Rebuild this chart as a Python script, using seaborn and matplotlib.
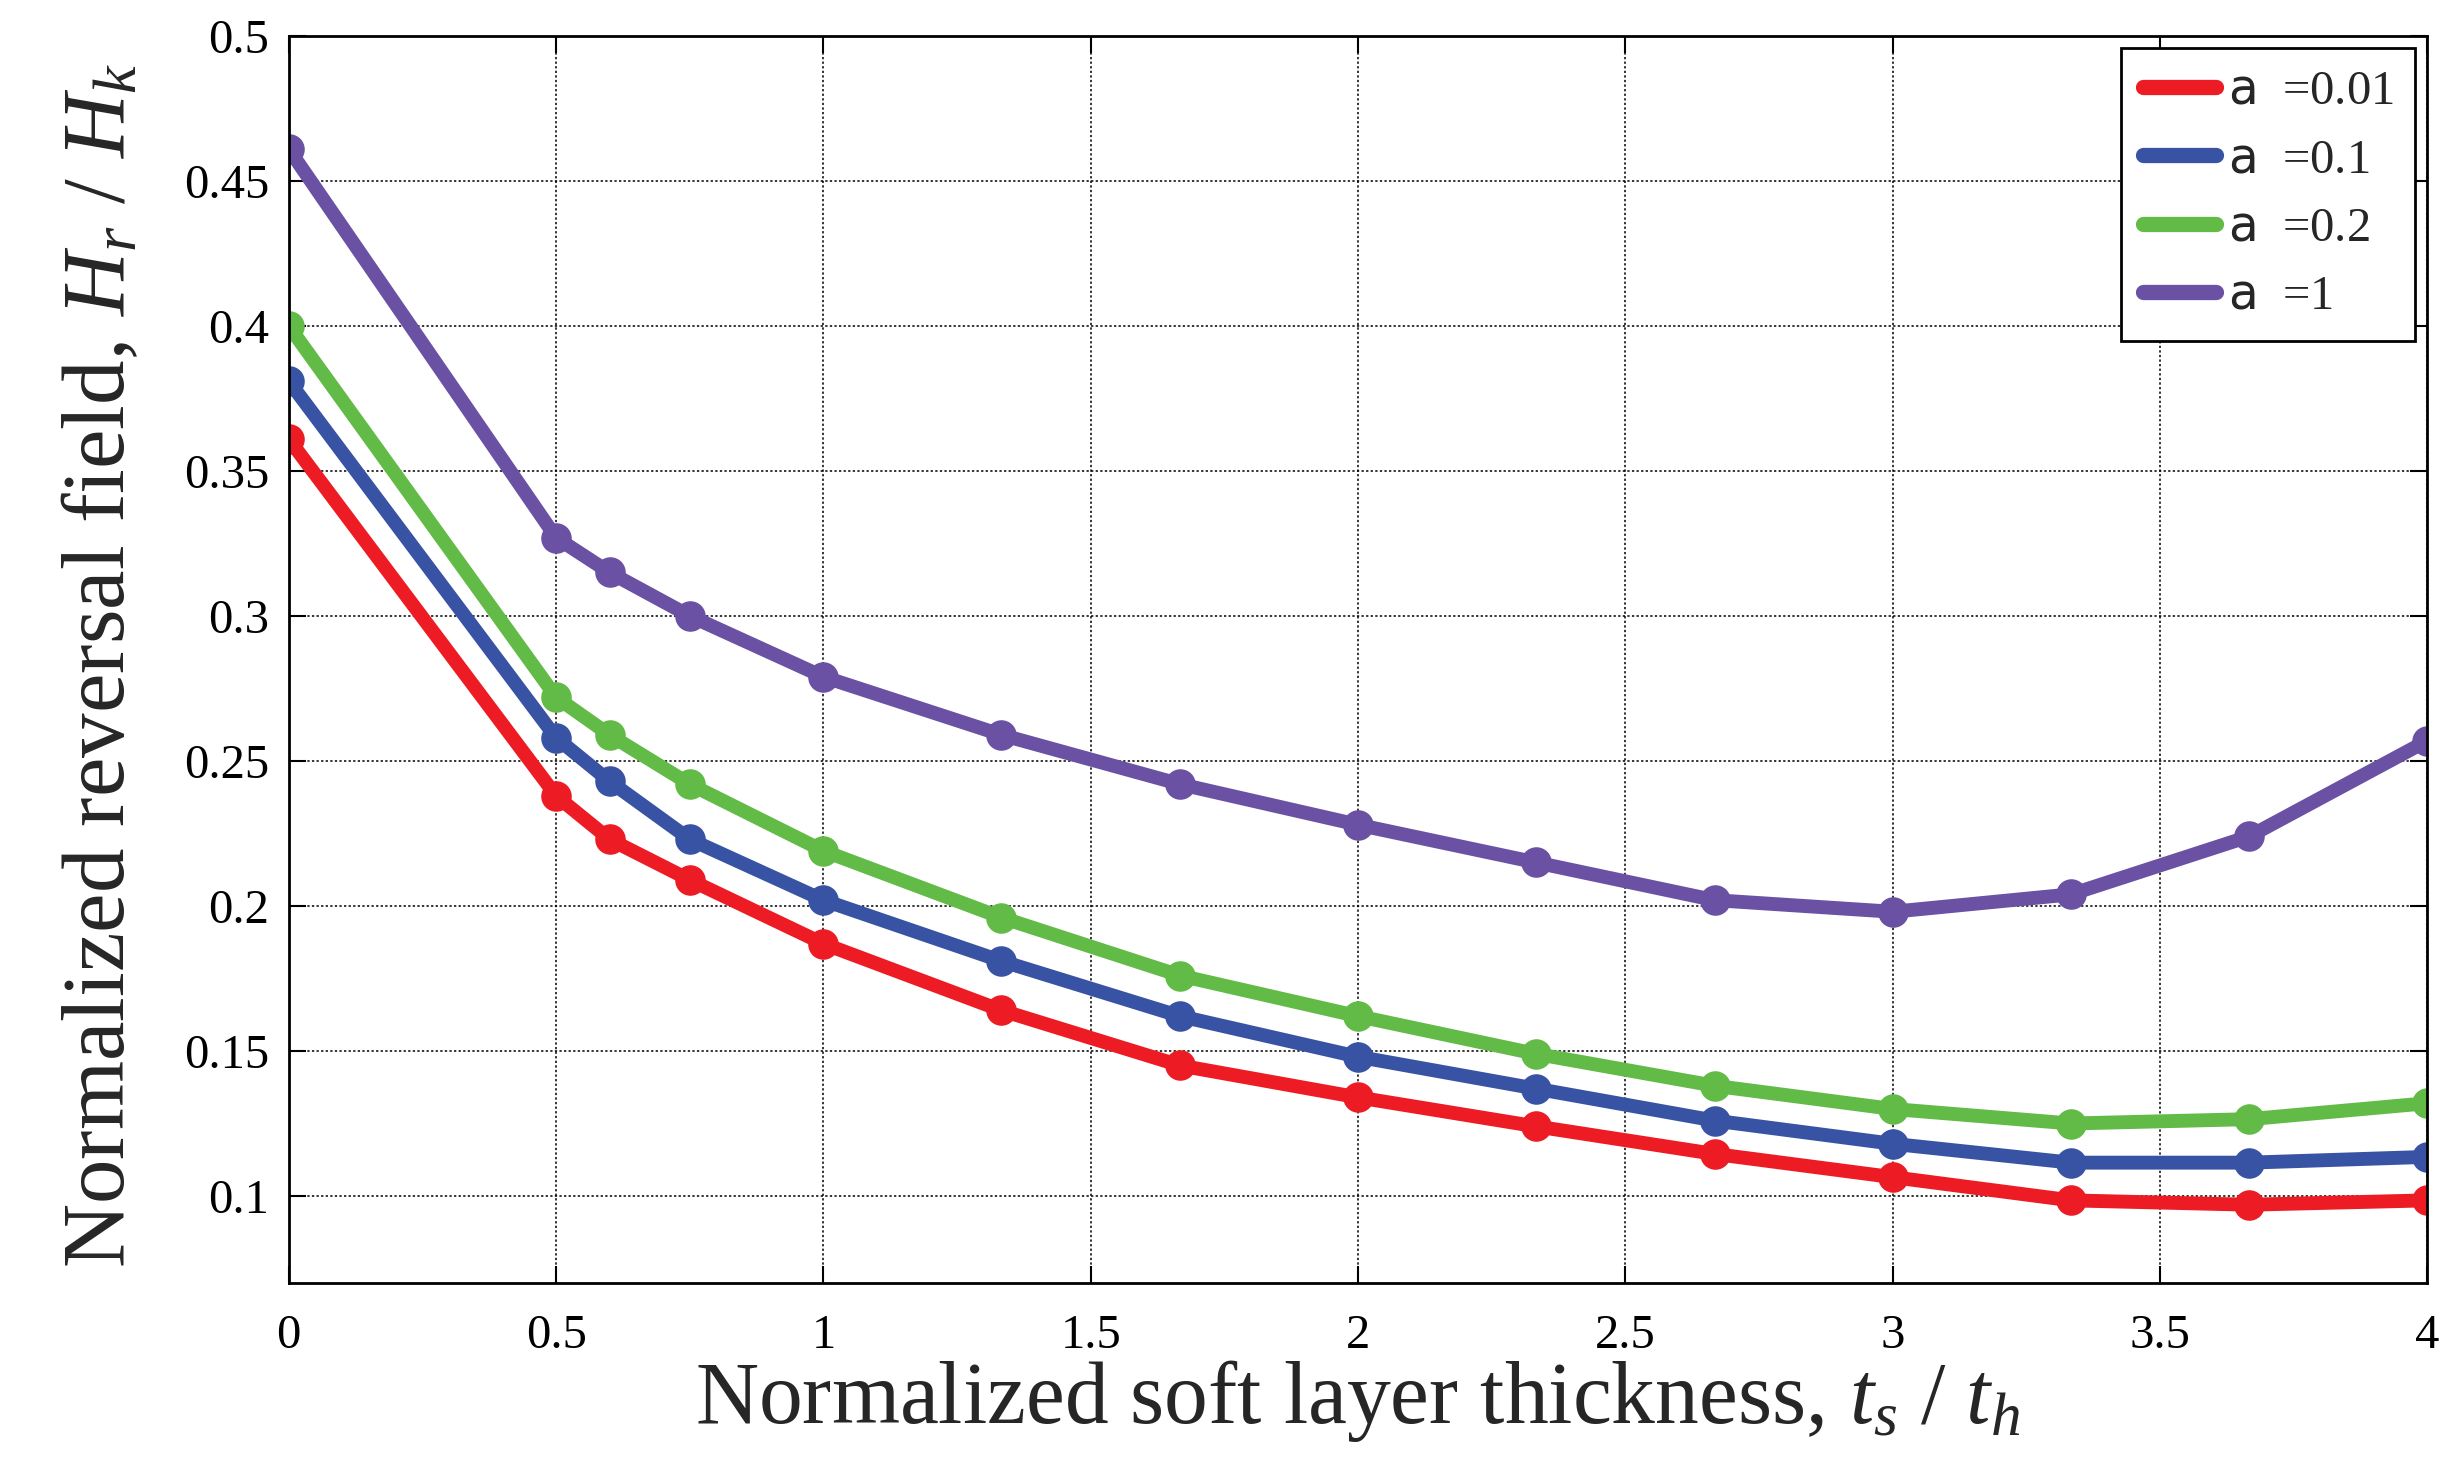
import pandas as pd
import matplotlib.pyplot as plt
import seaborn as sns
from matplotlib.lines import Line2D

sns.set_theme(style="ticks")
plt.rcParams["font.family"] = ["Liberation Serif", "DejaVu Serif"]
plt.rcParams["mathtext.fontset"] = "custom"
plt.rcParams["mathtext.rm"] = "Liberation Serif"
plt.rcParams["mathtext.it"] = "Liberation Serif:italic"
plt.rcParams["mathtext.sf"] = "DejaVu Sans"

# datos
x = [0, 0.5, 0.6, 0.75, 1, 1.333, 1.667, 2, 2.333, 2.667, 3, 3.333, 3.667, 4]
y_001 = [0.361, 0.238, 0.223, 0.209, 0.187, 0.164, 0.145, 0.134, 0.124, 0.1145, 0.1065, 0.0985, 0.097, 0.0985]
y_01 = [0.381, 0.258, 0.243, 0.223, 0.202, 0.181, 0.162, 0.148, 0.137, 0.126, 0.118, 0.1115, 0.1115, 0.1135]
y_02 = [0.400, 0.272, 0.259, 0.242, 0.219, 0.196, 0.176, 0.162, 0.149, 0.138, 0.130, 0.125, 0.1265, 0.132]
y_1 = [0.461, 0.327, 0.315, 0.300, 0.279, 0.259, 0.242, 0.228, 0.215, 0.202, 0.198, 0.204, 0.224, 0.257]

etiquetas = ["0.01", "0.1", "0.2", "1"]
colores = ["#ED1C24", "#3953A4", "#62BB46", "#6A51A3"]

df = pd.concat([
    pd.DataFrame({"x": x, "y": y, "a": lab})
    for y, lab in zip([y_001, y_01, y_02, y_1], etiquetas)
])

fig = plt.figure(figsize=(24.47, 14.69), dpi=100)
ax = fig.add_axes([0.118, 0.1266, 0.874, 0.849])

sns.lineplot(
    data=df, x="x", y="y", hue="a", hue_order=etiquetas,
    palette=dict(zip(etiquetas, colores)),
    marker="o", markersize=22, markeredgewidth=0,
    linewidth=10, legend=False, ax=ax, sort=False
)

ax.set_xlim(0, 4)
ax.set_ylim(0.07, 0.5)
ax.set_xticks([0, 0.5, 1, 1.5, 2, 2.5, 3, 3.5, 4])
ax.set_xticklabels(["0", "0.5", "1", "1.5", "2", "2.5", "3", "3.5", "4"])
ax.set_yticks([0.1, 0.15, 0.2, 0.25, 0.3, 0.35, 0.4, 0.45, 0.5])
ax.set_yticklabels(["0.1", "0.15", "0.2", "0.25", "0.3", "0.35", "0.4", "0.45", "0.5"])
ax.tick_params(direction="in", length=12, width=1.5, labelsize=35,
               top=True, right=True, colors="black")
ax.tick_params(axis="x", pad=22)
ax.tick_params(axis="y", pad=14)
ax.grid(True, color="black", linestyle=(0, (1.5, 1.5)), linewidth=1.1)
for s in ax.spines.values():
    s.set_linewidth(2)
    s.set_color("black")

ax.set_xlabel(r"Normalized soft layer thickness, $t_s\ /\ t_h$", fontsize=63, labelpad=0)
ax.set_ylabel(r"Normalized reversal field, $H_r\ /\ H_k$", fontsize=64)
ax.yaxis.set_label_coords(-0.068, 0.495)

handles = [Line2D([], [], color=c, linewidth=11) for c in colores]
labels = [r"$\mathsf{a}$  =" + e for e in etiquetas]
leg = ax.legend(handles, labels, loc="upper right", fontsize=35, frameon=True,
                fancybox=False, edgecolor="black", framealpha=1,
                handlelength=1.5, handletextpad=0.25, labelspacing=0.5,
                borderpad=0.45, borderaxespad=0.25)
leg.get_frame().set_linewidth(2)

plt.savefig("out.png", dpi=100)
